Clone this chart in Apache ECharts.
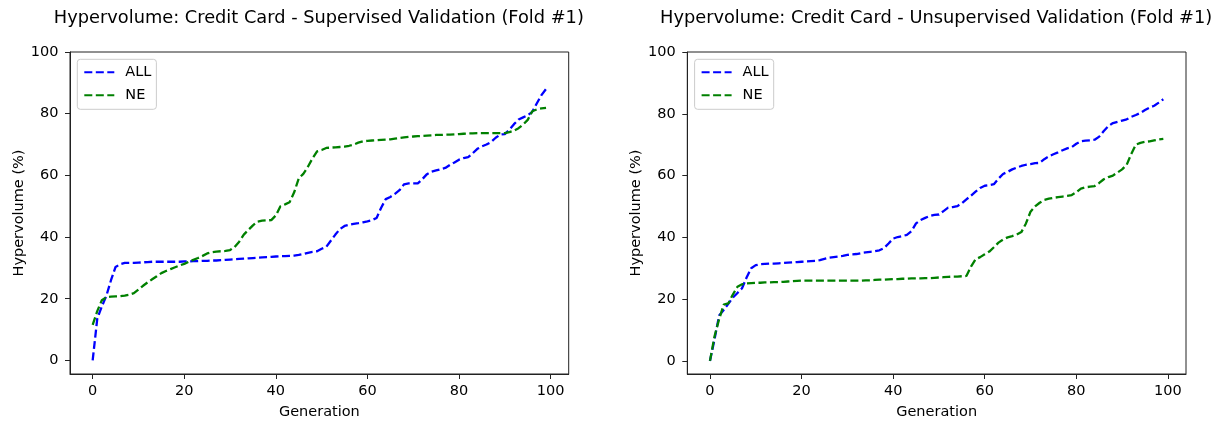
<!DOCTYPE html>
<html>
<head>
<meta charset="utf-8">
<script src="https://cdn.jsdelivr.net/npm/echarts@6/dist/echarts.min.js"></script>
<style>
  html, body { margin: 0; padding: 0; background: #fff; }
  #chart { width: 1225px; height: 425px; }
</style>
</head>
<body>
<div id="chart"></div>
<script>
// Hypervolume per generation (%), Credit Card dataset, fold #1
const titles = [
  'Hypervolume: Credit Card - Supervised Validation (Fold #1)',
  'Hypervolume: Credit Card - Unsupervised Validation (Fold #1)'
];
const seriesNames = ['ALL', 'NE'];
const xTicks = [0, 20, 40, 60, 80, 100];
const yTicks = [0, 20, 40, 60, 80, 100];

// Supervised validation
const supervisedAll = [
  0, 13.5, 17.5, 21, 26, 30.3, 31.2, 31.6, 31.6, 31.6,
  31.7, 31.8, 31.9, 32, 32, 32, 32, 32, 32, 32,
  32.1, 32.1, 32.2, 32.2, 32.3, 32.3, 32.4, 32.4, 32.5, 32.6,
  32.7, 32.8, 32.9, 33, 33.1, 33.2, 33.3, 33.4, 33.5, 33.6,
  33.7, 33.8, 33.8, 33.9, 34, 34.2, 34.5, 34.9, 35.2, 35.4,
  36.2, 36.8, 38.8, 40.8, 42.6, 43.6, 44, 44.3, 44.5, 44.8,
  45.1, 45.5, 46.2, 49.5, 52.3, 53, 54, 55.2, 57.1, 57.4,
  57.4, 57.4, 58.8, 60.4, 61.2, 61.6, 62, 62.4, 63.4, 64.2,
  65.1, 65.6, 65.9, 67.2, 68.6, 69.4, 70, 70.8, 72.2, 73.2,
  73.4, 74.8, 76.6, 78.1, 78.8, 79.5, 80.6, 83.4, 86, 88
];
const supervisedNE = [
  11.5, 16, 19.5, 20.5, 20.7, 20.8, 20.8, 21, 21.3, 21.8,
  23, 24.2, 25.3, 26.3, 27.3, 28.3, 29, 29.6, 30.2, 30.8,
  31.3, 32, 32.6, 33.2, 33.9, 34.7, 35.1, 35.3, 35.4, 35.5,
  35.8, 36.8, 38.5, 40.8, 42.3, 43.8, 45, 45.3, 45.4, 45.5,
  47, 50, 50.6, 51.3, 54.5, 59, 60.5, 62.8, 65.5, 67.8,
  68.2, 68.9, 69, 69.1, 69.2, 69.3, 69.6, 70, 70.6, 71,
  71.2, 71.3, 71.4, 71.5, 71.6, 71.7, 71.9, 72.1, 72.3, 72.5,
  72.6, 72.7, 72.8, 72.9, 73, 73.1, 73.1, 73.2, 73.2, 73.3,
  73.4, 73.5, 73.6, 73.6, 73.7, 73.7, 73.7, 73.7, 73.7, 73.7,
  73.7, 74, 74.5, 75.3, 76.5, 78, 80.8, 81.4, 81.7, 81.9
];

// Unsupervised validation
const unsupervisedAll = [
  0, 7, 14.7, 16.5, 18.5, 20.5, 22, 23.5, 27, 30,
  31, 31.3, 31.4, 31.5, 31.5, 31.6, 31.7, 31.8, 31.9, 32,
  32.1, 32.2, 32.3, 32.4, 32.6, 33, 33.4, 33.6, 33.8, 34,
  34.3, 34.5, 34.6, 34.9, 35.1, 35.3, 35.5, 35.8, 36.5, 38,
  39.6, 40.1, 40.4, 40.8, 42, 44.5, 45.6, 46.3, 46.9, 47.3,
  47.4, 48.5, 49.6, 49.8, 50.1, 51, 52.3, 53.5, 54.8, 56,
  56.7, 56.9, 57.2, 59, 60.5, 61.2, 62, 62.6, 63.1, 63.5,
  63.7, 64, 64.1, 65.3, 66.2, 66.9, 67.5, 68.2, 68.8, 69.2,
  70.3, 71.1, 71.3, 71.4, 71.6, 72.6, 74.4, 76, 77, 77.4,
  77.8, 78.2, 79, 79.6, 80.3, 81.2, 82, 82.6, 83.6, 84.7
];
const unsupervisedNE = [
  0, 8, 13.5, 18.2, 18.6, 21.5, 24, 24.8, 25.1, 25.2,
  25.3, 25.3, 25.4, 25.4, 25.5, 25.5, 25.6, 25.7, 25.8, 25.9,
  26, 26, 26, 26, 26, 26, 26, 26, 26, 26,
  26, 26, 26, 26, 26.1, 26.1, 26.2, 26.3, 26.3, 26.4,
  26.5, 26.5, 26.6, 26.6, 26.7, 26.7, 26.7, 26.8, 26.8, 26.9,
  27, 27.1, 27.2, 27.3, 27.3, 27.4, 27.5, 30.5, 32.9, 33.6,
  34.5, 35.4, 36.8, 38.3, 39.3, 40, 40.4, 40.9, 41.7, 44.5,
  48.3, 50, 51.2, 52.1, 52.5, 52.8, 53, 53.2, 53.4, 53.7,
  54.6, 55.8, 56.2, 56.4, 56.6, 57.6, 58.8, 59.5, 60, 61,
  62, 63.5, 67, 70, 70.6, 70.9, 71.1, 71.4, 71.7, 71.9
];

const FONT = 'DejaVu Sans';
const COLORS = { ALL: '#0000ff', NE: '#008000' };
const DASH = [8, 3.5];

const panels = [
  { left: 70, yMin: -4.4, all: supervisedAll, ne: supervisedNE },
  { left: 687.3, yMin: -4.24, all: unsupervisedAll, ne: unsupervisedNE }
];
const GRID_W = 498.7, GRID_TOP = 52, GRID_H = 323.7;

const toPoints = arr => arr.map((v, i) => [i, v]);

const option = {
  animation: false,
  backgroundColor: '#fff',
  textStyle: { fontFamily: FONT, color: '#000' },
  title: panels.map((p, i) => ({
    text: titles[i],
    left: p.left + GRID_W / 2 - 5.5,
    textAlign: 'center',
    top: 4,
    textStyle: { fontFamily: FONT, fontSize: 17.8, fontWeight: 'normal', color: '#000' }
  })),
  legend: panels.map(p => ({
    orient: 'vertical',
    left: p.left + 7.3,
    top: GRID_TOP + 7.3,
    data: seriesNames,
    itemWidth: 30,
    itemHeight: 14,
    itemGap: 8,
    padding: [5.5, 5, 6.5, 6],
    backgroundColor: 'rgba(255,255,255,0.8)',
    borderColor: '#cccccc',
    borderWidth: 1,
    borderRadius: 3,
    selectedMode: false,
    itemStyle: { opacity: 0 },
    textStyle: { fontFamily: FONT, fontSize: 14.5, color: '#000', padding: [0, 0, 0, 6] }
  })),
  grid: panels.map(p => ({
    left: p.left, top: GRID_TOP, width: GRID_W, height: GRID_H,
    show: true, borderColor: '#222', borderWidth: 1, backgroundColor: 'transparent',
    containLabel: false
  })),
  xAxis: panels.map((p, i) => ({
    type: 'value', gridIndex: i, min: -4.95, max: 103.95,
    name: 'Generation', nameLocation: 'middle', nameGap: 31,
    nameTextStyle: { fontFamily: FONT, fontSize: 14.5, color: '#000' },
    axisLine: { show: true, onZero: false, lineStyle: { color: '#222', width: 1 } },
    axisTick: { show: true, length: 5, lineStyle: { color: '#222', width: 1 }, customValues: xTicks },
    axisLabel: { fontFamily: FONT, fontSize: 14.5, color: '#000', margin: 10, customValues: xTicks },
    splitLine: { show: false }
  })),
  yAxis: panels.map((p, i) => ({
    type: 'value', gridIndex: i, min: p.yMin, max: 100,
    name: 'Hypervolume (%)', nameLocation: 'middle', nameGap: 43,
    nameTextStyle: { fontFamily: FONT, fontSize: 14.5, color: '#000' },
    axisLine: { show: true, onZero: false, lineStyle: { color: '#222', width: 1 } },
    axisTick: { show: true, length: 5, lineStyle: { color: '#222', width: 1 }, customValues: yTicks },
    axisLabel: { fontFamily: FONT, fontSize: 14.5, color: '#000', margin: 11.5, customValues: yTicks },
    splitLine: { show: false }
  })),
  series: panels.flatMap((p, i) => [
    { name: 'ALL', data: toPoints(p.all) },
    { name: 'NE', data: toPoints(p.ne) }
  ].map(s => ({
    type: 'line', name: s.name, xAxisIndex: i, yAxisIndex: i,
    data: s.data, symbol: 'none', showSymbol: false, silent: true,
    color: COLORS[s.name],
    lineStyle: { color: COLORS[s.name], width: 2.3, type: DASH }
  })))
};

echarts.init(document.getElementById('chart'), null, { renderer: 'canvas' }).setOption(option);
</script>
</body>
</html>
